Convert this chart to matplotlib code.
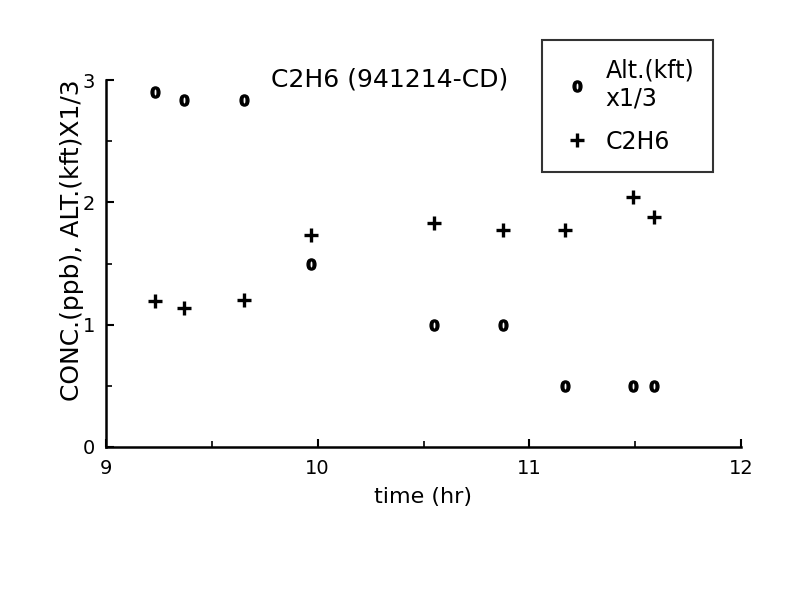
import matplotlib.pyplot as plt
from matplotlib.ticker import MultipleLocator

plt.rcParams['font.family'] = ['DejaVu Sans']

# flight times (hr)
time_hr = [9.23, 9.37, 9.65, 9.97, 10.55, 10.875, 11.17, 11.49, 11.59]
alt_kft_third = [2.90, 2.84, 2.84, 1.50, 1.00, 1.00, 0.50, 0.50, 0.50]
c2h6_ppb = [1.19, 1.14, 1.20, 1.73, 1.83, 1.77, 1.77, 2.04, 1.88]

fig = plt.figure(figsize=(8.04, 6), dpi=100)
ax = fig.add_axes([106 / 804, 1 - 447 / 600, (741 - 106) / 804, (447 - 80) / 600])

ax.plot(time_hr, alt_kft_third, linestyle='none', marker=r'$\mathbf{0}$',
        markersize=8, color='black', label='Alt.(kft)\nx1/3')
ax.plot(time_hr, c2h6_ppb, linestyle='none', marker='+', markersize=10,
        markeredgewidth=2.4, color='black', label='C2H6')

ax.set_xlim(9, 12)
ax.set_ylim(0, 3)
ax.xaxis.set_major_locator(MultipleLocator(1))
ax.xaxis.set_minor_locator(MultipleLocator(0.5))
ax.yaxis.set_major_locator(MultipleLocator(1))
ax.yaxis.set_minor_locator(MultipleLocator(0.5))

for side in ['top', 'right']:
    ax.spines[side].set_visible(False)
for side in ['left', 'bottom']:
    ax.spines[side].set_linewidth(1.8)

ax.tick_params(which='major', direction='in', length=6, width=1.5, labelsize=14)
ax.tick_params(which='minor', direction='in', length=4, width=1.2)
ax.tick_params(axis='x', pad=9)
ax.tick_params(axis='y', pad=8)

ax.set_xlabel('time (hr)', fontsize=16, labelpad=6)
ax.set_ylabel('CONC.(ppb), ALT.(kft)X1/3', fontsize=18)
ax.yaxis.set_label_coords((84 - 106) / 635, (447 - 240) / 367)

fig.text(390 / 804, 1 - 80 / 600, 'C2H6 (941214-CD)', fontsize=18,
         ha='center', va='center')

leg = ax.legend(loc='upper left', bbox_to_anchor=(542 / 804, 1 - 40 / 600),
                bbox_transform=fig.transFigure, fontsize=17, frameon=True,
                fancybox=False, edgecolor='black', handletextpad=0.5,
                handlelength=1.4, borderpad=0.8, labelspacing=0.8,
                borderaxespad=0)
leg.get_frame().set_linewidth(1.5)

fig.savefig('out.png', dpi=100)
